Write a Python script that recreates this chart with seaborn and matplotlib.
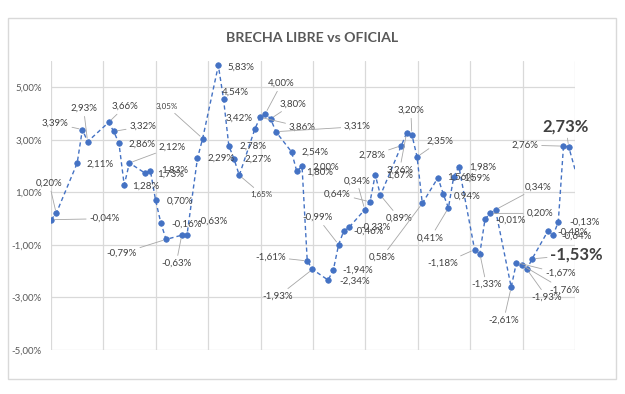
import matplotlib
matplotlib.use("Agg")
import matplotlib.pyplot as plt
from matplotlib.patches import Rectangle
import seaborn as sns
import pandas as pd
import numpy as np

# ---------------- data ----------------
title = "BRECHA LIBRE vs OFICIAL"
# trading-day offsets (calendar days from first observation)
day = [0, 1, 5, 6, 7, 11, 12, 13, 14, 15, 18, 19, 20, 21, 22, 25, 26, 28, 29,
       32, 33, 34, 35, 36, 39, 40, 41, 42, 43, 46, 47, 48, 49, 50, 53, 54, 55,
       56, 57, 60, 61, 62, 63, 67, 68, 69, 70, 71, 74, 75, 76, 77, 78, 81, 82,
       83, 84, 85, 88, 89, 90, 91, 92, 95, 96, 97, 98, 99]
brecha = [-0.04, 0.20, 2.11, 3.39, 2.93, 3.66, 3.32, 2.86, 1.28, 2.12, 1.73,
          1.83, 0.70, -0.16, -0.79, -0.63, -0.63, 2.29, 3.05, 5.83, 4.54, 2.78,
          2.27, 1.65, 3.42, 3.86, 4.00, 3.80, 3.31, 2.54, 1.80, 2.00, -1.61,
          -1.93, -2.34, -1.94, -0.99, -0.46, -0.33, 0.34, 0.64, 1.67, 0.89,
          2.78, 3.26, 3.20, 2.35, 0.58, 1.56, 0.94, 0.41, 1.59, 1.98, -1.18,
          -1.33, -0.01, 0.20, 0.34, -2.61, -1.67, -1.76, -1.93, -1.53, -0.48,
          -0.64, -0.13, 2.76, 2.73]
# next observation, beyond the visible axis range (line runs off the plot)
next_day = [102]
next_brecha = [0.6]
yticks = [-5, -3, -1, 1, 3, 5]

# ---------------- label layout (pixel offsets, leader flag, style) -------
layout = [
    (53.5, 1, 1, 'n'), (-7, 30, 1, 'n'), (23, -1, 0, 'n'), (-27, 6, 1, 'n'),
    (-4, 33, 1, 'n'), (16.5, 16, 1, 'n'), (29, 5, 1, 'n'), (23.5, -1, 0, 'n'),
    (22, -1, 0, 'n'), (43, 16, 1, 'n'), (25, -1, 0, 'n'), (24, 0, 0, 'n'),
    (24, -1, 0, 'n'), (25.5, -1, 0, 'n'), (-44.5, -14, 1, 'n'), (-5.5, -28, 1, 'n'),
    (25.5, 14, 0, 'n'), (23.5, 0, 0, 'n'), (-35.5, 32, 1, 's'), (23, -2, 0, 'n'),
    (12, 7, 0, 'n'), (24, -1, 0, 'n'), (24, 0, 0, 'n'), (22.5, -19, 1, 's'),
    (-16, 11, 0, 'n'), (42, -10, 1, 'n'), (16, 30, 1, 'n'), (22.5, 15, 1, 'n'),
    (81.5, 5, 1, 'n'), (23, 0, 0, 'n'), (23, -1, 0, 'n'), (24, -1, 0, 'n'),
    (-36.5, 4, 1, 'n'), (-34.5, -27, 1, 'n'), (26.5, -1, 0, 'n'), (24.5, -1, 0, 'n'),
    (-21, 27, 1, 'n'), (25, 0, 0, 'n'), (26.5, 0, 0, 'n'), (-8, 29, 1, 'n'),
    (-32.5, 8, 1, 'n'), (24, 0, 0, 'n'), (19, -23, 1, 'n'), (-29.5, -10, 1, 'n'),
    (-7, -37, 1, 'n'), (-1, 24, 1, 'n'), (23, 16, 1, 'n'), (-40.5, -54, 1, 'n'),
    (23, 0, 0, 'n'), (23.5, -2, 0, 'n'), (-18, -30, 1, 'n'), (23, -1, 0, 'n'),
    (23.5, -1, 0, 'n'), (-31.5, -14, 1, 'n'), (6.5, -31, 1, 'n'), (25, -1, 0, 'n'),
    (49.5, 0, 1, 'n'), (43, 23, 1, 'n'), (-7.5, -33, 1, 'n'), (44, -11, 1, 'n'),
    (42.5, -25, 1, 'n'), (20, -28, 1, 'n'), (44.5, 4, 1, 'b'), (24.5, -1, 0, 'n'),
    (24, -1, 0, 'n'), (26.5, 0, 0, 'n'), (-38.5, 1, 1, 'n'), (-3, 20, 1, 'b'),
]

# ---------------- styling ----------------
sns.set_style("white")
plt.rcParams['font.family'] = ['Lato', 'DejaVu Sans']

BLUE = "#4472C4"
GRID = "#d9d9d9"
TXT = "#404040"
AX_TXT = "#595959"

fig = plt.figure(figsize=(6.25, 3.94), dpi=100)
fig.patch.set_facecolor("white")
W, H = 625, 394
ax = fig.add_axes([51 / W, 1 - 350 / H, (575 - 51) / W, (350 - 61) / H])

df = pd.DataFrame({"day": day + next_day, "brecha": brecha + next_brecha})
sns.lineplot(data=df, x="day", y="brecha", ax=ax, color=BLUE, lw=1.0,
             linestyle=(0, (3, 2.2)), marker="o", markersize=4.0,
             markeredgecolor=BLUE, markerfacecolor=BLUE, markeredgewidth=0.5,
             clip_on=True, legend=False)

ax.set_xlim(0, 100.2)
ax.set_ylim(-5, 6)
ax.set_yticks(yticks)
ax.set_yticklabels([f"{v:.2f}".replace(".", ",") + "%" for v in yticks],
                   color=AX_TXT, fontsize=7)
ax.set_xticks(np.linspace(0, 100.2, 11))
ax.set_xticklabels([])
ax.tick_params(axis="both", length=0, pad=6.5)
ax.grid(True, color=GRID, lw=0.9)
ax.set_axisbelow(True)
for s in ax.spines.values():
    s.set_visible(False)
ax.set_xlabel("")
ax.set_ylabel("")

# data labels
for x, v, (dx, dy, lead, st) in zip(day, brecha, layout):
    txt = f"{v:.2f}".replace(".", ",") + "%"
    kw = dict(fontsize=7, color=TXT)
    if st == 's':
        kw = dict(fontsize=5.8, color=TXT)
    elif st == 'b':
        kw = dict(fontsize=12, color=TXT, fontweight="bold")
    ap = None
    if lead:
        ap = dict(arrowstyle="-", color="#a6a6a6", lw=0.6, shrinkA=0, shrinkB=2.5)
    ax.annotate(txt, xy=(x, v), xytext=(dx, dy), textcoords="offset pixels",
                ha="center", va="center", arrowprops=ap, annotation_clip=False,
                zorder=5, **kw)

# title and chart border
fig.text(312 / W, 1 - 38 / H, title, ha="center", va="center",
         fontsize=10.2, fontweight="bold", color=AX_TXT)
fig.patches.append(Rectangle((8 / W, 1 - 379 / H), (616 - 8) / W, (379 - 18) / H,
                             transform=fig.transFigure, fill=False,
                             ec=GRID, lw=1.0))

fig.savefig("out.png", dpi=100, facecolor="white")
